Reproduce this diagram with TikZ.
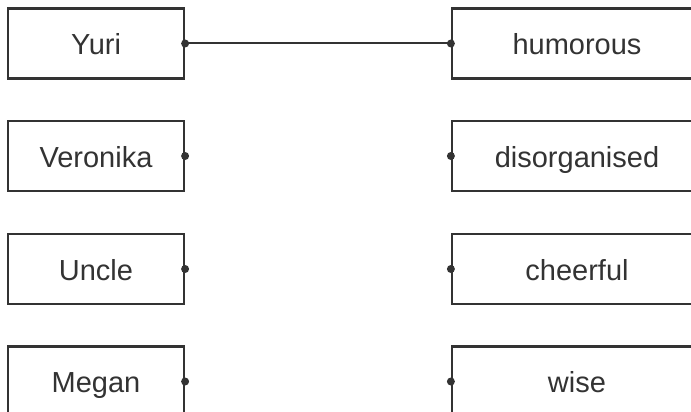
\documentclass[tikz,border=0pt]{standalone}
\usepackage{fontspec}
\setmainfont{Liberation Sans}
\definecolor{ink}{HTML}{333333}
\begin{document}
\begin{tikzpicture}[x=1pt,y=-1pt,
  box/.style={draw=ink,line width=2.2pt,rectangle,minimum height=70pt,inner sep=0pt,
    text=ink,font=\fontsize{29}{33}\selectfont,text height=22pt,text depth=0pt},
  lbox/.style={box,minimum width=176pt},
  rbox/.style={box,minimum width=250pt},
  dot/.style={circle,fill=ink,inner sep=0pt,minimum size=8pt},
  link/.style={draw=ink,line width=2pt}]
\useasboundingbox (0,0) rectangle (691,412);
\clip (0,0) rectangle (691,412);
\fill[white] (0,0) rectangle (691,412);
\node[lbox] (yuri) at (96,43.5) {Yuri};
\node[lbox] (veronika) at (96,156) {Veronika};
\node[lbox] (uncle) at (96,269) {Uncle};
\node[lbox] (megan) at (96,381.5) {Megan};
\node[rbox] (humorous) at (577,43.5) {humorous};
\node[rbox] (disorganised) at (577,156) {disorganised};
\node[rbox] (cheerful) at (577,269) {cheerful};
\node[rbox] (wise) at (577,381.5) {wise};
\foreach \n in {yuri,veronika,uncle,megan}{\node[dot] at (\n.east) {};}
\foreach \n in {humorous,disorganised,cheerful,wise}{\node[dot] at (\n.west) {};}
\draw[link] (yuri.east) -- (humorous.west);
\end{tikzpicture}
\end{document}
